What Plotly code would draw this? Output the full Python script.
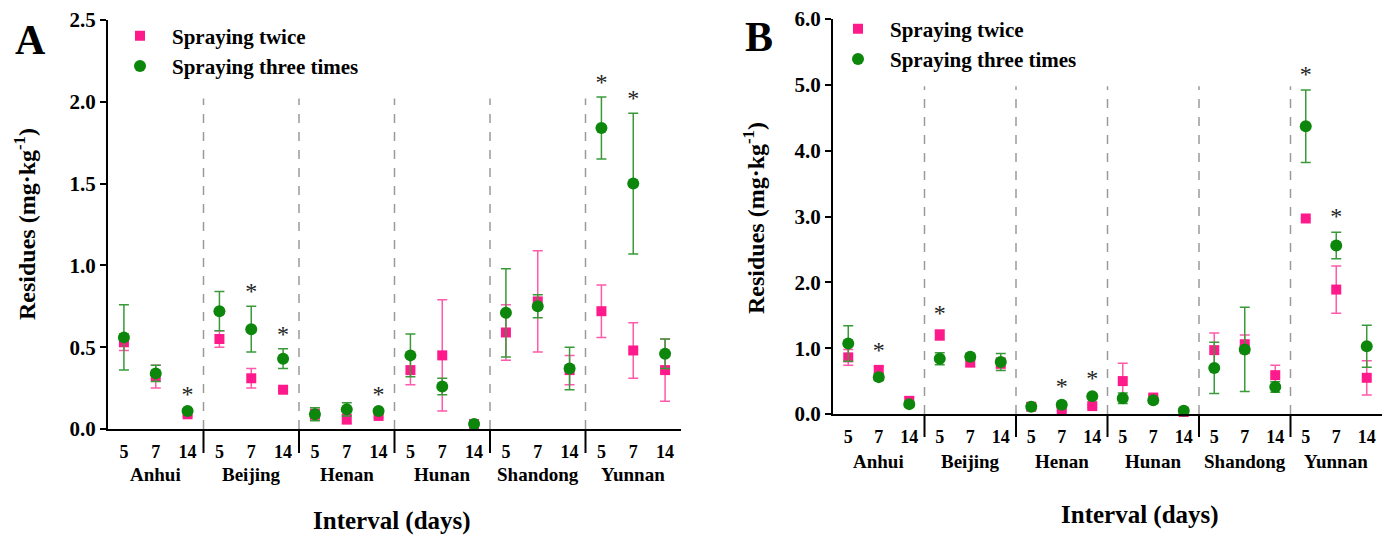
import plotly.graph_objects as go

# ---------------- data ----------------
regions = ["Anhui", "Beijing", "Henan", "Hunan", "Shandong", "Yunnan"]
days = ["5", "7", "14"]

# Panel A
a_twice = [0.53, 0.32, 0.09, 0.55, 0.31, 0.24, 0.09, 0.06, 0.08, 0.36, 0.45, 0.03, 0.59, 0.78, 0.36, 0.72, 0.48, 0.36]
a_twice_err = [0.05, 0.07, 0.01, 0.05, 0.06, 0.01, 0.03, 0.03, 0.01, 0.09, 0.34, 0.01, 0.17, 0.31, 0.09, 0.16, 0.17, 0.19]
a_three = [0.56, 0.34, 0.11, 0.72, 0.61, 0.43, 0.09, 0.12, 0.11, 0.45, 0.26, 0.03, 0.71, 0.75, 0.37, 1.84, 1.50, 0.46]
a_three_err = [0.20, 0.05, 0.01, 0.12, 0.14, 0.06, 0.04, 0.04, 0.01, 0.13, 0.05, 0.01, 0.27, 0.07, 0.13, 0.19, 0.43, 0.09]
a_stars = [2, 4, 5, 8, 15, 16]   # indices of significant points

# Panel B
b_twice = [0.86, 0.67, 0.20, 1.20, 0.78, 0.77, 0.11, 0.07, 0.12, 0.50, 0.25, 0.03, 0.97, 1.06, 0.59, 2.97, 1.89, 0.55]
b_twice_err = [0.12, 0.05, 0.05, 0.08, 0.05, 0.08, 0.03, 0.02, 0.02, 0.27, 0.04, 0.01, 0.26, 0.14, 0.15, 0.0, 0.36, 0.26]
b_three = [1.07, 0.56, 0.15, 0.84, 0.87, 0.79, 0.11, 0.14, 0.27, 0.24, 0.21, 0.05, 0.70, 0.98, 0.41, 4.37, 2.56, 1.03]
b_three_err = [0.27, 0.05, 0.04, 0.09, 0.05, 0.13, 0.03, 0.04, 0.03, 0.08, 0.04, 0.01, 0.39, 0.64, 0.08, 0.55, 0.20, 0.32]
b_stars = [1, 3, 7, 8, 15, 16]

# ---------------- styling ----------------
FONT = "Liberation Serif"
PINK = "#ff1a8c"
PINK_ERR = "#ff5aab"
GREEN = "#0c870c"
GREEN_ERR = "#3a9a3a"

W, H = 1392, 537
def px_x(p): return p / W
def px_y(p): return 1 - p / H

xpos = [3 * g + 0.5 + d for g in range(len(regions)) for d in range(len(days))]
ticktext = [d for _ in regions for d in days]
bounds = [3 * g for g in range(1, len(regions))]

panels = [
    dict(name="A", x="x", y="y", xa="xaxis", ya="yaxis", legend="legend",
         twice=a_twice, twice_err=a_twice_err, three=a_three, three_err=a_three_err, stars=a_stars,
         xdom=[px_x(108), px_x(681)], ydom=[px_y(429), px_y(20)], yr=[0, 2.5], dt=0.5,
         pad=0.08, dash_top=2.02, ax_bot=429, sep_bot=453, grp_y=474, title_y=521, title_x=392,
         ytitle_x=25, ytitle_y=224, letter=(30, 40), leg=(108, 51)),
    dict(name="B", x="x2", y="y2", xa="xaxis2", ya="yaxis2", legend="legend2",
         twice=b_twice, twice_err=b_twice_err, three=b_three, three_err=b_three_err, stars=b_stars,
         xdom=[px_x(833), px_x(1382)], ydom=[px_y(414), px_y(19)], yr=[0, 6.0], dt=1.0,
         pad=0.22, dash_top=4.98, ax_bot=414, sep_bot=437, grp_y=461, title_y=515, title_x=1140,
         ytitle_x=754, ytitle_y=218, letter=(759, 37), leg=(826, 44)),
]

fig = go.Figure()
annotations = []
shapes = []
layout = {}

for p in panels:
    fig.add_trace(go.Scatter(
        x=xpos, y=p["twice"], mode="markers", name="Spraying twice",
        xaxis=p["x"], yaxis=p["y"], legend=p["legend"],
        marker=dict(symbol="square", size=10, color=PINK),
        error_y=dict(type="data", array=p["twice_err"], color=PINK_ERR, thickness=1.5, width=5),
        cliponaxis=False,
    ))
    fig.add_trace(go.Scatter(
        x=xpos, y=p["three"], mode="markers", name="Spraying three times",
        xaxis=p["x"], yaxis=p["y"], legend=p["legend"],
        marker=dict(symbol="circle", size=12, color=GREEN),
        error_y=dict(type="data", array=p["three_err"], color=GREEN_ERR, thickness=1.5, width=5),
        cliponaxis=False,
    ))
    # significance stars
    sx, sy = [], []
    for i in p["stars"]:
        top = max(p["twice"][i] + p["twice_err"][i], p["three"][i] + p["three_err"][i])
        sx.append(xpos[i])
        sy.append(top + p["pad"])
    fig.add_trace(go.Scatter(
        x=sx, y=sy, mode="text", text=["*"] * len(sx), showlegend=False,
        xaxis=p["x"], yaxis=p["y"], textposition="middle center",
        textfont=dict(family=FONT, size=24, color="#222222"), cliponaxis=False,
    ))

    nt = int(round(p["yr"][1] / p["dt"])) + 1
    tv = [k * p["dt"] for k in range(nt)]
    layout[p["xa"]] = dict(
        domain=p["xdom"], range=[0, 3 * len(regions)], anchor=p["y"], automargin=False,
        showline=True, linecolor="black", linewidth=2, showgrid=False, zeroline=False,
        tickvals=xpos, ticktext=ticktext, ticks="", ticklabelstandoff=5,
        tickfont=dict(family=FONT, size=18, color="black", weight="bold"),
    )
    layout[p["ya"]] = dict(
        domain=p["ydom"], range=p["yr"], anchor=p["x"], automargin=False,
        showline=True, linecolor="black", linewidth=2, showgrid=False, zeroline=False,
        tickvals=tv, tickformat=".1f", ticks="outside", ticklen=6, tickwidth=2, tickcolor="black",
        tickfont=dict(family=FONT, size=21, color="black", weight="bold"),
    )
    layout[p["legend"]] = dict(
        x=px_x(p["leg"][0]), y=px_y(p["leg"][1]), xanchor="left", yanchor="middle",
        bgcolor="rgba(0,0,0,0)", itemwidth=54, tracegroupgap=0,
        font=dict(family=FONT, size=21, color="black", weight="bold"),
    )

    for b in bounds:
        shapes.append(dict(type="line", xref=p["x"], yref=p["y"], x0=b, x1=b, y0=0, y1=p["dash_top"],
                           line=dict(color="#9a9a9a", width=1.5, dash="dash"), layer="below"))
        shapes.append(dict(type="line", xref=p["x"], yref="paper", x0=b, x1=b,
                           y0=px_y(p["ax_bot"]), y1=px_y(p["sep_bot"]),
                           line=dict(color="black", width=2)))
    for g, r in enumerate(regions):
        annotations.append(dict(x=3 * g + 1.5, xref=p["x"], y=px_y(p["grp_y"]), yref="paper",
                                text=r, showarrow=False, xanchor="center", yanchor="middle",
                                font=dict(family=FONT, size=19, color="black", weight="bold")))
    annotations.append(dict(x=px_x(p["title_x"]), y=px_y(p["title_y"]), xref="paper", yref="paper",
                            text="Interval (days)", showarrow=False, xanchor="center", yanchor="middle",
                            font=dict(family=FONT, size=25, color="black", weight="bold")))
    annotations.append(dict(x=px_x(p["ytitle_x"]), y=px_y(p["ytitle_y"]), xref="paper", yref="paper",
                            text="Residues (mg·kg<sup>-1</sup>)", textangle=-90, showarrow=False,
                            xanchor="center", yanchor="middle",
                            font=dict(family=FONT, size=24, color="black", weight="bold")))
    annotations.append(dict(x=px_x(p["letter"][0]), y=px_y(p["letter"][1]), xref="paper", yref="paper",
                            text=p["name"], showarrow=False, xanchor="center", yanchor="middle",
                            font=dict(family=FONT, size=42, color="black", weight="bold")))

fig.update_layout(
    width=W, height=H, margin=dict(l=0, r=0, t=0, b=0, autoexpand=False),
    paper_bgcolor="white", plot_bgcolor="white",
    showlegend=True, annotations=annotations, shapes=shapes,
    **layout,
)

fig.write_html("out.html", config={"displayModeBar": False},
               post_script="document.body.style.margin='0';document.body.style.overflow='hidden';")
